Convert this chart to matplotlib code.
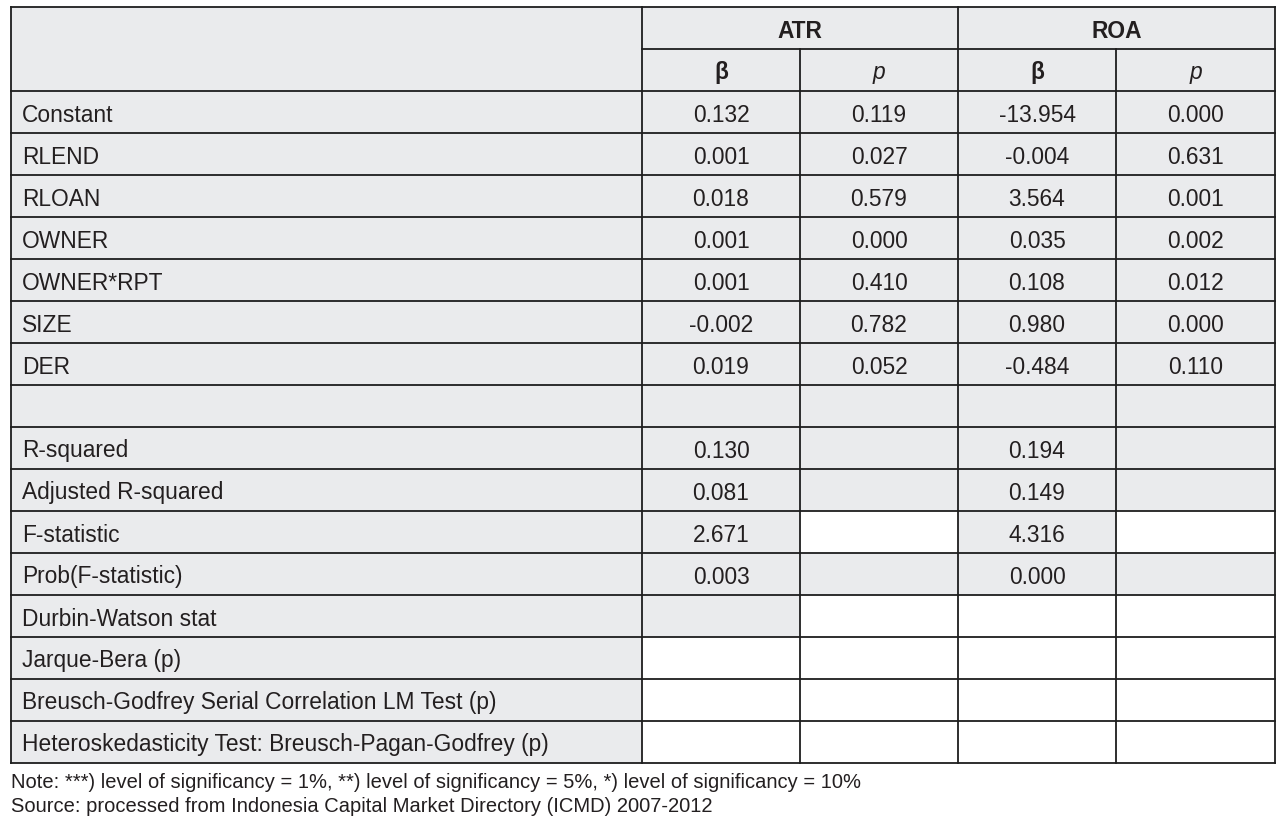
import matplotlib.pyplot as plt
from matplotlib.patches import Rectangle

plt.rcParams['font.family'] = ['Liberation Sans', 'DejaVu Sans']

# --- table content ---
row_labels = ["Constant", "RLEND", "RLOAN", "OWNER", "OWNER*RPT", "SIZE", "DER", "",
              "R-squared", "Adjusted R-squared", "F-statistic", "Prob(F-statistic)",
              "Durbin-Watson stat", "Jarque-Bera (p)",
              "Breusch-Godfrey Serial Correlation LM Test (p)",
              "Heteroskedasticity Test: Breusch-Pagan-Godfrey (p)"]
groups = ["ATR", "ROA"]
sub_cols = ["β", "p", "β", "p"]

atr_beta = ["0.132", "0.001", "0.018", "0.001", "0.001", "-0.002", "0.019", "",
            "0.130", "0.081", "2.671", "0.003", "", "", "", ""]
atr_p    = ["0.119", "0.027", "0.579", "0.000", "0.410", "0.782", "0.052", "",
            "", "", "", "", "", "", "", ""]
roa_beta = ["-13.954", "-0.004", "3.564", "0.035", "0.108", "0.980", "-0.484", "",
            "0.194", "0.149", "4.316", "0.000", "", "", "", ""]
roa_p    = ["0.000", "0.631", "0.001", "0.002", "0.012", "0.000", "0.110", "",
            "", "", "", "", "", "", "", ""]
columns = [atr_beta, atr_p, roa_beta, roa_p]

# which data cells are white (row index, col index); rest are grey
white_cells = {(10, 1), (10, 3), (12, 1), (12, 2), (12, 3)}
for r in (13, 14, 15):
    for c in range(4):
        white_cells.add((r, c))

notes = ["Note: ***) level of significancy = 1%, **) level of significancy = 5%, *) level of significancy = 10%",
         "Source: processed from Indonesia Capital Market Directory (ICMD) 2007-2012"]

# --- geometry (pixels) ---
W, H = 1285, 826
x_edges = [11, 642, 800, 958, 1116, 1275]
top = 7
row_h = 42.0
grey = "#eaebed"
line_c = "#1e1e1e"
txt_c = "#231f20"
fs = 16.4

fig = plt.figure(figsize=(W / 100, H / 100), dpi=100)
ax = fig.add_axes([0, 0, 1, 1])
ax.set_xlim(0, W)
ax.set_ylim(H, 0)
ax.axis("off")

n_rows = len(row_labels)
body_top = top + 2 * row_h
bottom = body_top + n_rows * row_h

# header background
ax.add_patch(Rectangle((x_edges[0], top), x_edges[-1] - x_edges[0], 2 * row_h,
                       facecolor=grey, edgecolor="none"))
# body backgrounds
for r in range(n_rows):
    y0 = body_top + r * row_h
    ax.add_patch(Rectangle((x_edges[0], y0), x_edges[1] - x_edges[0], row_h,
                           facecolor=grey, edgecolor="none"))
    for c in range(4):
        fc = "white" if (r, c) in white_cells else grey
        ax.add_patch(Rectangle((x_edges[c + 1], y0), x_edges[c + 2] - x_edges[c + 1], row_h,
                               facecolor=fc, edgecolor="none"))

lw = 1.3
# horizontal lines
ax.plot([x_edges[0], x_edges[-1]], [top, top], color=line_c, lw=lw)
ax.plot([x_edges[1], x_edges[-1]], [top + row_h, top + row_h], color=line_c, lw=lw)
for r in range(n_rows + 1):
    y = body_top + r * row_h
    ax.plot([x_edges[0], x_edges[-1]], [y, y], color=line_c, lw=lw)
# vertical lines
for i, x in enumerate(x_edges):
    y_start = top if i in (0, 1, 3, 5) else top + row_h
    ax.plot([x, x], [y_start, bottom], color=line_c, lw=lw)

# header text
for g, name in enumerate(groups):
    xc = (x_edges[1 + 2 * g] + x_edges[3 + 2 * g]) / 2
    ax.text(xc, top + row_h / 2 + 3, name, ha="center", va="center",
            fontsize=fs, fontweight="bold", color=txt_c)
for c, name in enumerate(sub_cols):
    xc = (x_edges[c + 1] + x_edges[c + 2]) / 2
    if name == "β":
        ax.text(xc, top + 1.5 * row_h + 3, name, ha="center", va="center",
                fontsize=fs, fontweight="bold", color=txt_c)
    else:
        ax.text(xc, top + 1.5 * row_h + 3, name, ha="center", va="center",
                fontsize=fs, style="italic", color=txt_c)

# body text
for r, label in enumerate(row_labels):
    yc = body_top + (r + 0.5) * row_h + 3
    ax.text(x_edges[0] + 11, yc, label, ha="left", va="center",
            fontsize=fs, color=txt_c)
    for c, col in enumerate(columns):
        if col[r]:
            xc = (x_edges[c + 1] + x_edges[c + 2]) / 2
            ax.text(xc, yc, col[r], ha="center", va="center",
                    fontsize=fs, color=txt_c)

# notes
for i, line in enumerate(notes):
    ax.text(x_edges[0], bottom + 20 + i * 23, line, ha="left", va="center",
            fontsize=14.5, color=txt_c)

plt.savefig("out.png", dpi=100)
plt.close()
